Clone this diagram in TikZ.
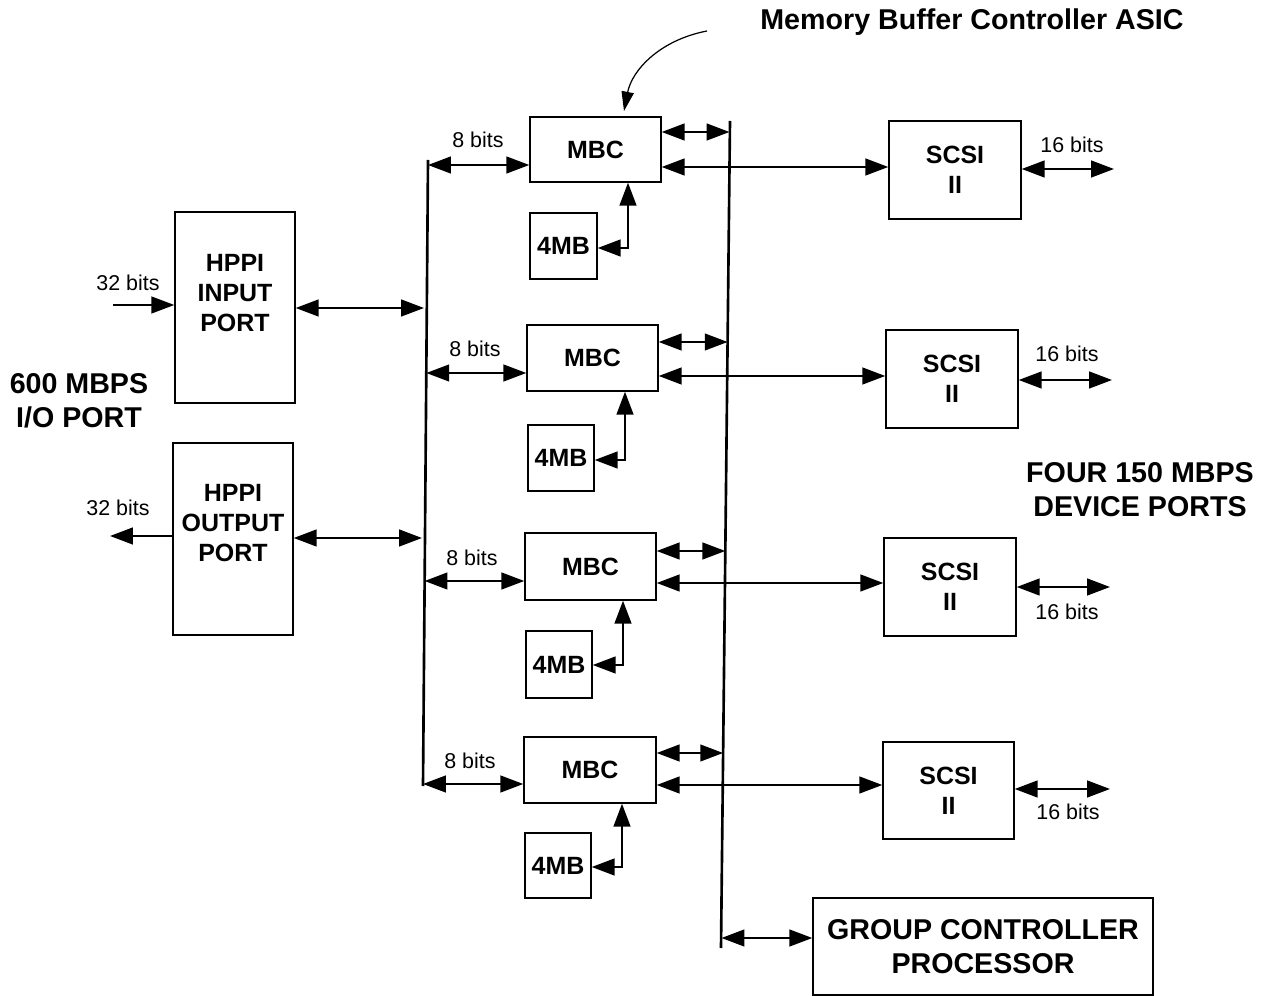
\documentclass[tikz,border=0pt]{standalone}
\usepackage{fontspec}
\setmainfont{Liberation Sans}
\usetikzlibrary{arrows.meta}
\newcommand\mybox[7][]{\node[box,#1,minimum width={(#5-#3)*0.02cm},minimum height={(#6-#4)*0.02cm}] (#2) at ({(#3+#5)/2},{(#4+#6)/2}) {#7};}
\begin{document}
\begin{tikzpicture}[x=0.02cm,y=-0.02cm,
  box/.style={draw,line width=0.8pt,inner sep=0pt,align=center,font=\fontsize{14.2}{17}\selectfont\bfseries},
  txt/.style={inner sep=0pt,align=center,font=\fontsize{14.2}{17}\selectfont\bfseries},
  lbl/.style={inner sep=0pt,font=\fontsize{12.2}{14}\selectfont},
  big/.style={inner sep=0pt,align=center,font=\fontsize{16.3}{19.5}\selectfont\bfseries},
  tip/.tip={Triangle[length=13pt,width=9.5pt]},
  dbl/.style={line width=1.2pt,tip-tip},
  sgl/.style={line width=1.2pt,-tip},
  bus/.style={line width=1.5pt}]
\useasboundingbox (0,0) rectangle (1262,996);

% buses
\coordinate (lbt) at (428,160);
\coordinate (lbb) at (423,786);
\coordinate (rbt) at (730,121);
\coordinate (rbb) at (721,948);
\draw[bus] (lbt) -- (lbb);
\draw[bus] (rbt) -- (rbb);

% HPPI ports
\mybox{hin}{175}{212}{295}{403}{}
\node[txt] (hinT) at (235,293) {HPPI\\INPUT\\PORT};
\mybox{hout}{173}{443}{293}{635}{}
\node[txt] (houtT) at (233,523) {HPPI\\OUTPUT\\PORT};
\coordinate (inA) at (113,305);
\coordinate (Lin) at (424,308);
\coordinate (outA) at (110,536);
\coordinate (Lout) at (422,538);
\draw[sgl] (inA) -- (hin.west |- inA);
\draw[dbl] (hin.east |- Lin) -- (Lin);
\draw[sgl] (hout.west |- outA) -- (outA);
\draw[dbl] (hout.east |- Lout) -- (Lout);
\node[lbl] (in32) at (128,283) {32 bits};
\node[lbl] (out32) at (118,508) {32 bits};
\node[big] (io) at (79,401) {600 MBPS\\I/O PORT};

% row 1
\mybox{m1}{530}{117}{661}{182}{MBC}
\mybox{k1}{530}{213}{597}{279}{4MB}
\mybox{s1}{889}{121}{1021}{219}{SCSI\\II}
\coordinate (L1) at (428,165);
\coordinate (R1) at (729.5,132);
\coordinate (y1) at (0,167);
\coordinate (c1) at (628,248);
\coordinate (e1) at (1114,169);
\draw[dbl] (L1) -- (m1.west |- L1);
\draw[dbl] (m1.east |- R1) -- (R1);
\draw[dbl] (m1.east |- y1) -- (s1.west |- y1);
\draw[dbl] (k1.east |- c1) -| (m1.south -| c1);
\draw[dbl] (s1.east |- e1) -- (e1);
\node[lbl] (b1) at (478,140) {8 bits};
\node[lbl] (t1) at (1072,145) {16 bits};

% row 2
\mybox{m2}{527}{325}{658}{391}{MBC}
\mybox{k2}{528}{425}{594}{491}{4MB}
\mybox{s2}{886}{330}{1018}{428}{SCSI\\II}
\coordinate (L2) at (426.3,373);
\coordinate (R2) at (727.6,342);
\coordinate (y2) at (0,376);
\coordinate (c2) at (625,460);
\coordinate (e2) at (1112,380);
\draw[dbl] (L2) -- (m2.west |- L2);
\draw[dbl] (m2.east |- R2) -- (R2);
\draw[dbl] (m2.east |- y2) -- (s2.west |- y2);
\draw[dbl] (k2.east |- c2) -| (m2.south -| c2);
\draw[dbl] (s2.east |- e2) -- (e2);
\node[lbl] (b2) at (475,349) {8 bits};
\node[lbl] (t2) at (1067,354) {16 bits};

% row 3
\mybox{m3}{525}{533}{656}{600}{MBC}
\mybox{k3}{526}{631}{592}{698}{4MB}
\mybox{s3}{884}{538}{1016}{636}{SCSI\\II}
\coordinate (L3) at (424.6,581);
\coordinate (R3) at (725.3,551);
\coordinate (y3) at (0,583);
\coordinate (c3) at (623,665);
\coordinate (e3) at (1110,587);
\draw[dbl] (L3) -- (m3.west |- L3);
\draw[dbl] (m3.east |- R3) -- (R3);
\draw[dbl] (m3.east |- y3) -- (s3.west |- y3);
\draw[dbl] (k3.east |- c3) -| (m3.south -| c3);
\draw[dbl] (s3.east |- e3) -- (e3);
\node[lbl] (b3) at (472,558) {8 bits};
\node[lbl] (t3) at (1067,612) {16 bits};

% row 4
\mybox{m4}{524}{737}{656}{803}{MBC}
\mybox{k4}{525}{833}{591}{898}{4MB}
\mybox{s4}{883}{742}{1014}{839}{SCSI\\II}
\coordinate (L4) at (423,784);
\coordinate (R4) at (723.1,753);
\coordinate (y4) at (0,785);
\coordinate (c4) at (622,867);
\coordinate (e4) at (1110,789);
\draw[dbl] (L4) -- (m4.west |- L4);
\draw[dbl] (m4.east |- R4) -- (R4);
\draw[dbl] (m4.east |- y4) -- (s4.west |- y4);
\draw[dbl] (k4.east |- c4) -| (m4.south -| c4);
\draw[dbl] (s4.east |- e4) -- (e4);
\node[lbl] (b4) at (470,761) {8 bits};
\node[lbl] (t4) at (1068,812) {16 bits};

% group controller
\mybox[font=\fontsize{16.3}{19.5}\selectfont\bfseries]{gcp}{813}{898}{1153}{995}{GROUP CONTROLLER\\PROCESSOR}
\coordinate (Rg) at (721.5,938);
\draw[dbl] (Rg) -- (gcp.west |- Rg);

% labels
\node[big] (four) at (1140,490) {FOUR 150 MBPS\\DEVICE PORTS};
\node[big] (asic) at (972,22) {Memory Buffer Controller ASIC};
\coordinate (asicA) at (707,31);
\coordinate (asicB) at (624,111);
\draw[line width=0.7pt,-{Triangle[length=11pt,width=7pt]}] (asicA) .. controls (660,40) and (632,70) .. (asicB);
\end{tikzpicture}
\end{document}
